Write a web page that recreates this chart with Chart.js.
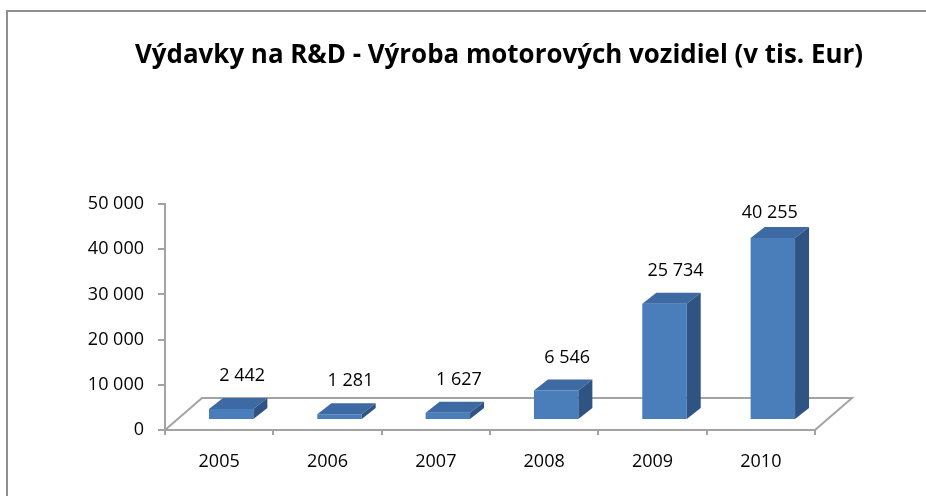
<!DOCTYPE html>
<html>
<head>
<meta charset="utf-8">
<script src="https://cdn.jsdelivr.net/npm/chart.js@4"></script>
<style>
  html, body { margin: 0; padding: 0; background: #fff; }
  #wrap { width: 926px; height: 496px; position: relative; }
</style>
</head>
<body>
<div id="wrap"><canvas id="chart" width="926" height="496"></canvas></div>
<script>
const years = ['2005', '2006', '2007', '2008', '2009', '2010']
const spending = [2442, 1281, 1627, 6546, 25734, 40255]
const yTicks = [0, 10000, 20000, 30000, 40000, 50000]
const titleText = 'Výdavky na R&D - Výroba motorových vozidiel (v tis. Eur)'

const FONT = "'Open Sans', 'Noto Sans', sans-serif"
const DEPTH_X = 14, DEPTH_Y = -11   // bar side depth
const SHIFT_X = 12, SHIFT_Y = -10   // bars sit a bit inside the floor
const FLOOR_X = 37, FLOOR_Y = -32

function fmt(v) {
  return String(v).replace(/\B(?=(\d{3})+(?!\d))/g, ' ')
}

// frame around the whole chart + title (condensed like the original)
const frame = {
  id: 'frame',
  beforeDraw(chart) {
    const ctx = chart.ctx
    ctx.save()
    ctx.strokeStyle = '#8f8f8f'
    ctx.lineWidth = 2
    ctx.beginPath()
    ctx.moveTo(7, 500)
    ctx.lineTo(7, 11)
    ctx.lineTo(930, 11)
    ctx.stroke()

    ctx.font = 'bold 27px ' + FONT
    ctx.fillStyle = '#000'
    ctx.textAlign = 'center'
    ctx.textBaseline = 'middle'
    const w = ctx.measureText(titleText).width
    ctx.translate(499, 55)
    ctx.scale(728 / w, 1)
    ctx.fillText(titleText, 0, 0)
    ctx.restore()
  }
}

// 3d floor behind bars
const floor = {
  id: 'floor',
  beforeDatasetsDraw(chart) {
    const ctx = chart.ctx
    const { left, right } = chart.chartArea
    const y0 = chart.scales.y.getPixelForValue(0)
    ctx.save()
    ctx.strokeStyle = '#a3a3a3'
    ctx.lineWidth = 2
    ctx.beginPath()
    ctx.moveTo(left, y0)
    ctx.lineTo(left + FLOOR_X, y0 + FLOOR_Y)
    ctx.lineTo(right + FLOOR_X, y0 + FLOOR_Y)
    ctx.lineTo(right, y0)
    ctx.stroke()
    ctx.restore()
  }
}

// shift bars and add top / side faces
const bars3d = {
  id: 'bars3d',
  beforeDatasetDraw(chart) {
    chart.ctx.save()
    chart.ctx.translate(SHIFT_X, SHIFT_Y)
  },
  afterDatasetDraw(chart, args) {
    const ctx = chart.ctx
    args.meta.data.forEach(el => {
      const { x, y, base, width } = el.getProps(['x', 'y', 'base', 'width'], true)
      const l = x - width / 2, r = x + width / 2
      // top
      ctx.fillStyle = '#3d6aa3'
      ctx.beginPath()
      ctx.moveTo(l, y)
      ctx.lineTo(l + DEPTH_X, y + DEPTH_Y)
      ctx.lineTo(r + DEPTH_X, y + DEPTH_Y)
      ctx.lineTo(r, y)
      ctx.closePath()
      ctx.fill()
      // side
      ctx.fillStyle = '#2f5382'
      ctx.beginPath()
      ctx.moveTo(r, y)
      ctx.lineTo(r + DEPTH_X, y + DEPTH_Y)
      ctx.lineTo(r + DEPTH_X, base + DEPTH_Y)
      ctx.lineTo(r, base)
      ctx.closePath()
      ctx.fill()
    })
    ctx.restore()
  },
  afterDatasetsDraw(chart) {
    const ctx = chart.ctx
    const meta = chart.getDatasetMeta(0)
    ctx.save()
    ctx.fillStyle = '#000'
    ctx.font = '18px ' + FONT
    ctx.textAlign = 'center'
    ctx.textBaseline = 'middle'
    meta.data.forEach((el, i) => {
      const { x, y } = el.getProps(['x', 'y'], true)
      const ly = Math.max(y + SHIFT_Y - 33, 213)
      const lx = x + SHIFT_X + (ly === 213 ? -3 : 11)
      ctx.fillText(fmt(spending[i]), lx, ly)
    })
    ctx.restore()
  }
}

new Chart(document.getElementById('chart'), {
  type: 'bar',
  data: {
    labels: years,
    datasets: [{
      data: spending,
      backgroundColor: '#4a7ebb',
      borderWidth: 0,
      barPercentage: 0.41,
      categoryPercentage: 1,
      clip: false
    }]
  },
  options: {
    responsive: false,
    animation: false,
    layout: { padding: { left: 0, right: 111, top: 204, bottom: 0 } },
    plugins: {
      legend: { display: false },
      tooltip: { enabled: false },
      title: { display: false }
    },
    scales: {
      x: {
        grid: { drawOnChartArea: false, tickLength: 5, color: '#a3a3a3', lineWidth: 2 },
        border: { display: true, color: '#a3a3a3', width: 2 },
        ticks: { color: '#000', font: { family: FONT, size: 18 }, padding: 16 },
        afterFit(scale) { scale.height = 66 }
      },
      y: {
        min: 0,
        max: 50000,
        afterBuildTicks(scale) { scale.ticks = yTicks.map(v => ({ value: v })) },
        grid: { drawOnChartArea: false, tickLength: 7, color: '#a3a3a3', lineWidth: 2 },
        border: { display: true, color: '#a3a3a3', width: 2 },
        ticks: {
          color: '#000',
          font: { family: FONT, size: 18 },
          padding: 14,
          callback: v => fmt(v)
        },
        afterFit(scale) { scale.width = 165 }
      }
    }
  },
  plugins: [frame, floor, bars3d]
})
</script>
</body>
</html>
